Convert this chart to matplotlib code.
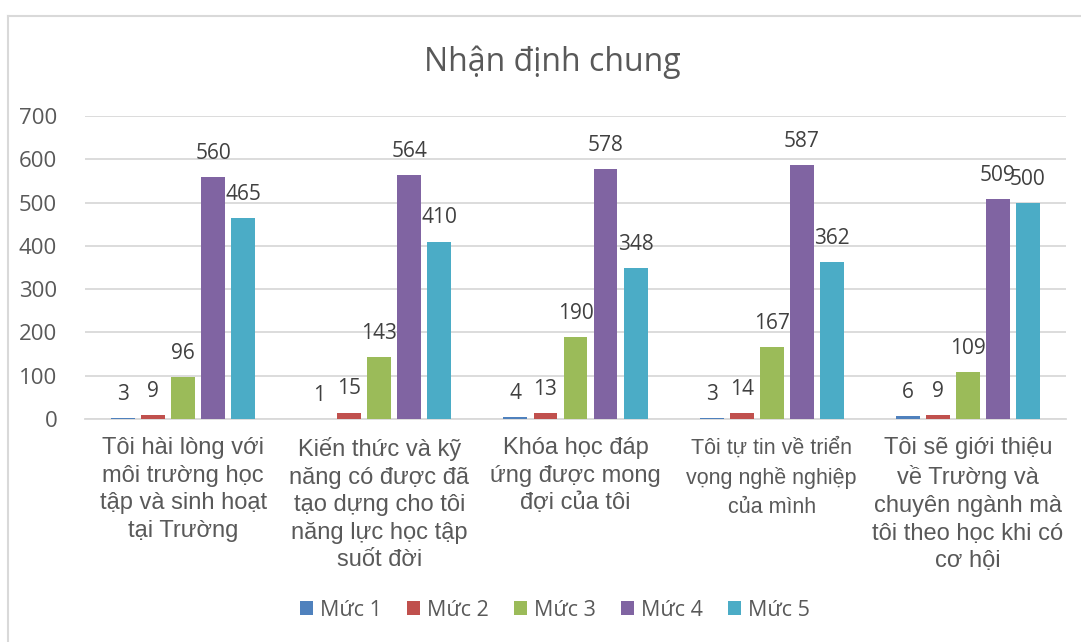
import numpy as np
import matplotlib.pyplot as plt
from matplotlib.patches import Patch
from matplotlib.lines import Line2D

categories = [
    "Tôi hài lòng với\nmôi trường học\ntập và sinh hoạt\ntại Trường",
    "Kiến thức và kỹ\nnăng có được đã\ntạo dựng cho tôi\nnăng lực học tập\nsuốt đời",
    "Khóa học đáp\nứng được mong\nđợi của tôi",
    "Tôi tự tin về triển\nvọng nghề nghiệp\ncủa mình",
    "Tôi sẽ giới thiệu\nvề Trường và\nchuyên ngành mà\ntôi theo học khi có\ncơ hội",
]
series_names = ["Mức 1", "Mức 2", "Mức 3", "Mức 4", "Mức 5"]
muc1 = [3, 1, 4, 3, 6]
muc2 = [9, 15, 13, 14, 9]
muc3 = [96, 143, 190, 167, 109]
muc4 = [560, 564, 578, 587, 509]
muc5 = [465, 410, 348, 362, 500]
yticks = [0, 100, 200, 300, 400, 500, 600, 700]

colors = ["#4F81BD", "#C0504D", "#9BBB59", "#8064A2", "#4BACC6"]
txt = "#595959"
grid = "#D9D9D9"
num_font = ["Open Sans", "DejaVu Sans"]

fig = plt.figure(figsize=(10.81, 6.42), dpi=100)
ax = fig.add_axes([85 / 1081, 1 - 419 / 642, (1066 - 85) / 1081, (419 - 116) / 642])

x = np.arange(len(categories))
step = 0.153
width = 0.122
for j, vals in enumerate([muc1, muc2, muc3, muc4, muc5]):
    pos = x + (j - 2) * step
    ax.bar(pos, vals, width, color=colors[j], label=series_names[j], zorder=3)
    for p, v in zip(pos, vals):
        ax.annotate(str(v), (p, v), xytext=(0, 13), textcoords="offset points",
                    ha="center", va="baseline", fontsize=15, color="#404040",
                    family=num_font, zorder=4)

ax.set_xlim(-0.5, len(categories) - 0.5)
ax.set_ylim(0, 700)
ax.set_yticks(yticks)
ax.set_yticklabels([str(t) for t in yticks], family=num_font, fontsize=16, color=txt)
ax.yaxis.grid(True, color=grid, linewidth=1.3, zorder=0)
ax.set_xticks(x)
ax.set_xticklabels(categories, family=["Liberation Sans", "DejaVu Sans"], fontsize=17,
                   color=txt, linespacing=1.33, va="top")
ax.get_xticklabels()[3].set_fontsize(15.5)
ax.get_xticklabels()[3].set_linespacing(1.5)
ax.tick_params(axis="both", length=0)
ax.tick_params(axis="x", pad=13)
ax.tick_params(axis="y", pad=20)
for s in ["top", "right", "left"]:
    ax.spines[s].set_visible(False)
ax.spines["bottom"].set_color(grid)
ax.spines["bottom"].set_linewidth(1.3)

fig.text(552 / 1081, 1 - 62 / 642, "Nhận định chung", ha="center", va="center",
         fontsize=23, color=txt, family=num_font)

handles = [Patch(facecolor=c, label=n) for c, n in zip(colors, series_names)]
fig.legend(handles=handles, loc="center", bbox_to_anchor=(555 / 1081, 1 - 610 / 642),
           ncol=5, frameon=False, prop={"family": num_font, "size": 15.5},
           labelcolor=txt, handlelength=0.6, handleheight=0.6, handletextpad=0.3,
           columnspacing=1.2)

# chart frame (cut off at right and bottom)
fig.add_artist(Line2D([8 / 1081, 1.0], [1 - 16 / 642] * 2, color=grid, linewidth=1.5))
fig.add_artist(Line2D([8 / 1081] * 2, [0.0, 1 - 16 / 642], color=grid, linewidth=1.5))

fig.savefig("out.png", dpi=100)
